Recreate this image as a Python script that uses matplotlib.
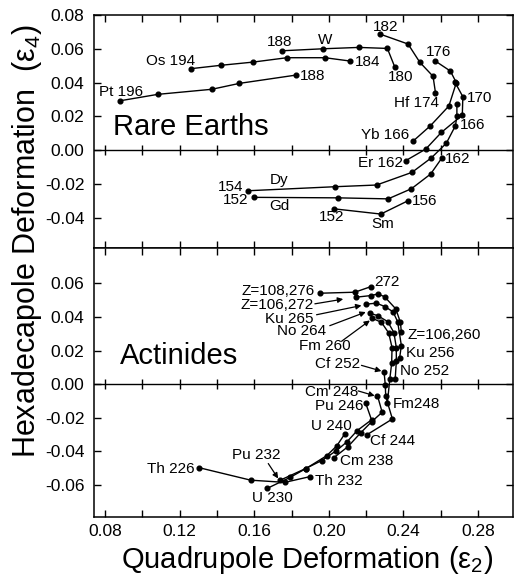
import numpy as np
import matplotlib.pyplot as plt
from matplotlib.ticker import MultipleLocator, FormatStrFormatter

plt.rcParams['font.family'] = ['Liberation Sans', 'DejaVu Sans']
plt.rcParams['mathtext.fontset'] = 'custom'
plt.rcParams['mathtext.rm'] = 'Liberation Sans'
plt.rcParams['mathtext.it'] = 'Liberation Sans:italic'
plt.rcParams['axes.unicode_minus'] = False

# --- Rare earth isotope chains: quadrupole (e2) and hexadecapole (e4) ---
pt_e2 = [0.0880, 0.1082, 0.1372, 0.1520, 0.1823]
pt_e4 = [0.0292, 0.0330, 0.0360, 0.0395, 0.0444]
os_e2 = [0.1259, 0.1420, 0.1593, 0.1775, 0.1979, 0.2116]
os_e4 = [0.0482, 0.0502, 0.0521, 0.0547, 0.0547, 0.0527]
w_e2 = [0.1748, 0.1970, 0.2161, 0.2314, 0.2353]
w_e4 = [0.0588, 0.0600, 0.0608, 0.0602, 0.0494]
hf_e2 = [0.2277, 0.2425, 0.2488, 0.2559, 0.2572]
hf_e4 = [0.0686, 0.0628, 0.0520, 0.0437, 0.0340]
yb_e2 = [0.2569, 0.2652, 0.2684, 0.2644, 0.2545, 0.2452]
yb_e4 = [0.0529, 0.0468, 0.0399, 0.0261, 0.0144, 0.0053]
er_e2 = [0.2412, 0.2520, 0.2604, 0.2716, 0.2719, 0.2675]
er_e4 = [-0.0063, 0.0006, 0.0105, 0.0207, 0.0316, 0.0405]
dy_e2 = [0.1564, 0.2034, 0.2256, 0.2446, 0.2550, 0.2630, 0.2679, 0.2687, 0.2687]
dy_e4 = [-0.0241, -0.0217, -0.0207, -0.0132, -0.0046, 0.0040, 0.0144, 0.0199, 0.0273]
gd_e2 = [0.1598, 0.2050, 0.2318, 0.2443, 0.2546, 0.2607]
gd_e4 = [-0.0280, -0.0283, -0.0289, -0.0229, -0.0142, -0.0046]
sm_e2 = [0.2028, 0.2279, 0.2425]
sm_e4 = [-0.0348, -0.0379, -0.0300]

# --- Actinide isotope chains ---
z108_e2 = [0.1952, 0.2139, 0.2225]
z108_e4 = [0.0541, 0.0547, 0.0580]
z106_e2 = [0.2143, 0.2225, 0.2265, 0.2300, 0.2359, 0.2384, 0.2389]
z106_e4 = [0.0517, 0.0527, 0.0537, 0.0519, 0.0448, 0.0368, 0.0309]
ku_e2 = [0.2202, 0.2255, 0.2300, 0.2344, 0.2369, 0.2389, 0.2380]
ku_e4 = [0.0476, 0.0482, 0.0462, 0.0431, 0.0372, 0.0230, 0.0158]
no_e2 = [0.2220, 0.2263, 0.2316, 0.2349, 0.2362, 0.2362, 0.2356]
no_e4 = [0.0423, 0.0407, 0.0372, 0.0307, 0.0218, 0.0136, 0.0030]
fm_e2 = [0.2229, 0.2282, 0.2321, 0.2339, 0.2337, 0.2327, 0.2314]
fm_e4 = [0.0394, 0.0368, 0.0305, 0.0218, 0.0124, 0.0030, -0.0112]
cf_e2 = [0.2296, 0.2303, 0.2305, 0.2341, 0.2204]
cf_e4 = [0.0075, -0.0006, -0.0073, -0.0207, -0.0301]
cm_e2 = [0.2261, 0.2286, 0.2229, 0.2171, 0.2102, 0.2027]
cm_e4 = [-0.0069, -0.0167, -0.0224, -0.0289, -0.0372, -0.0437]
pu_e2 = [0.2198, 0.2229, 0.2152, 0.2098, 0.2041, 0.1962, 0.1875, 0.1737]
pu_e4 = [-0.0114, -0.0212, -0.0276, -0.0342, -0.0395, -0.0454, -0.0502, -0.0572]
u_e2 = [0.2086, 0.2043, 0.1989, 0.1877, 0.1791, 0.1669]
u_e4 = [-0.0295, -0.0366, -0.0425, -0.0502, -0.0555, -0.0620]
th_e2 = [0.1305, 0.1581, 0.1764, 0.1898]
th_e4 = [-0.0497, -0.0571, -0.0584, -0.0550]

rare_chains = [(pt_e2, pt_e4), (os_e2, os_e4), (w_e2, w_e4), (hf_e2, hf_e4),
               (yb_e2, yb_e4), (er_e2, er_e4), (dy_e2, dy_e4), (gd_e2, gd_e4),
               (sm_e2, sm_e4)]
act_chains = [(z108_e2, z108_e4), (z106_e2, z106_e4), (ku_e2, ku_e4),
              (no_e2, no_e4), (fm_e2, fm_e4), (cf_e2, cf_e4), (cm_e2, cm_e4),
              (pu_e2, pu_e4), (u_e2, u_e4), (th_e2, th_e4)]

# label text, x, y, horizontal alignment
rare_labels = [
    ('Pt 196', 0.0765, 0.0345, 'left'), ('188', 0.1845, 0.0439, 'left'),
    ('Os 194', 0.1282, 0.0529, 'right'), ('184', 0.2139, 0.0523, 'left'),
    ('188', 0.1735, 0.0638, 'center'), ('W', 0.1979, 0.0652, 'center'),
    ('180', 0.2316, 0.0434, 'left'), ('182', 0.2236, 0.0731, 'left'),
    ('Hf 174', 0.2469, 0.0280, 'center'), ('176', 0.2587, 0.0583, 'center'),
    ('170', 0.2739, 0.0306, 'left'), ('166', 0.2702, 0.0148, 'left'),
    ('Yb 166', 0.2434, 0.0089, 'right'), ('Er 162', 0.2396, -0.0075, 'right'),
    ('162', 0.2621, -0.0055, 'left'), ('154', 0.1539, -0.0217, 'right'),
    ('Dy', 0.1732, -0.0178, 'center'), ('152', 0.1566, -0.0296, 'right'),
    ('Gd', 0.1732, -0.0332, 'center'), ('152', 0.2013, -0.0397, 'center'),
    ('Sm', 0.2287, -0.0439, 'center'), ('156', 0.2445, -0.0300, 'left'),
]
act_labels = [
    ('Z=108,276', 0.1925, 0.0553, 'right'), ('272', 0.2246, 0.0610, 'left'),
    ('Z=106,272', 0.1920, 0.0471, 'right'), ('Ku 265', 0.1920, 0.0390, 'right'),
    ('No 264', 0.1985, 0.0314, 'right'), ('Fm 260', 0.1979, 0.0226, 'center'),
    ('Z=106,260', 0.2423, 0.0295, 'left'), ('Ku 256', 0.2416, 0.0187, 'left'),
    ('Cf 252', 0.2166, 0.0118, 'right'), ('No 252', 0.2380, 0.0079, 'left'),
    ('Cm 248', 0.2159, -0.0049, 'right'), ('Fm248', 0.2343, -0.0118, 'left'),
    ('Pu 246', 0.2185, -0.0128, 'right'), ('U 240', 0.2125, -0.0246, 'right'),
    ('Cf 244', 0.2220, -0.0335, 'left'), ('Cm 238', 0.2059, -0.0454, 'left'),
    ('Pu 232', 0.1612, -0.0419, 'center'), ('Th 226', 0.1282, -0.0502, 'right'),
    ('Th 232', 0.1925, -0.0576, 'left'), ('U 230', 0.1697, -0.0679, 'center'),
]
# arrows: (tail, head)
act_arrows = [
    ((0.1925, 0.0478), (0.2077, 0.0506)),
    ((0.1934, 0.0413), (0.2175, 0.0468)),
    ((0.2005, 0.0348), (0.2198, 0.0429)),
    ((0.2068, 0.0255), (0.2220, 0.0379)),
    ((0.2175, 0.0112), (0.2282, 0.0078)),
    ((0.2157, -0.0040), (0.2246, -0.0069)),
    ((0.1675, -0.0472), (0.1728, -0.0561)),
]

W, H = 516, 575
fig = plt.figure(figsize=(W / 100, H / 100), dpi=100)
left, right = 94 / W, 513 / W
y_top, y_mid, y_bot = 1 - 15 / H, 1 - 248 / H, 1 - 517 / H
ax_re = fig.add_axes([left, y_mid, right - left, y_top - y_mid])
ax_ac = fig.add_axes([left, y_bot, right - left, y_mid - y_bot])

ax_re.set_ylim(-0.058, 0.08)
ax_ac.set_ylim(-0.079, 0.081)
ax_re.set_yticks(np.arange(-0.04, 0.081, 0.02))
ax_ac.set_yticks(np.arange(-0.06, 0.061, 0.02))

for ax in (ax_re, ax_ac):
    ax.set_xlim(0.074, 0.2988)
    ax.xaxis.set_major_locator(MultipleLocator(0.04))
    ax.xaxis.set_minor_locator(MultipleLocator(0.02))
    ax.xaxis.set_major_formatter(FormatStrFormatter('%.2f'))
    ax.yaxis.set_major_formatter(FormatStrFormatter('%.2f'))
    ax.tick_params(which='both', direction='in', top=True, right=True,
                   length=5, width=1, labelsize=12.5)
    ax.tick_params(axis='y', pad=7)
    ax.tick_params(axis='x', pad=5)
    for sp in ax.spines.values():
        sp.set_linewidth(1.1)
    # zero line carrying its own tick marks
    ax.axhline(0, color='k', lw=1.0)
    xt = np.arange(0.08, 0.281, 0.02)
    ax.plot(xt, np.zeros_like(xt), ls='none', marker='|', ms=7, mew=1,
            color='k')
ax_re.tick_params(axis='x', labelbottom=False)

for chains, ax in ((rare_chains, ax_re), (act_chains, ax_ac)):
    for e2, e4 in chains:
        ax.plot(e2, e4, '-o', color='k', lw=1.0, ms=3.4)

for labels, ax in ((rare_labels, ax_re), (act_labels, ax_ac)):
    for s, x, y, ha in labels:
        ax.text(x, y, s, ha=ha, va='center', fontsize=11)

for tail, head in act_arrows:
    ax_ac.annotate('', xy=head, xytext=tail,
                   arrowprops=dict(arrowstyle='-|>', color='k', lw=0.9,
                                   mutation_scale=8, shrinkA=0, shrinkB=0))

ax_re.text(0.0843, 0.0136, 'Rare Earths', fontsize=21, va='center')
ax_ac.text(0.0880, 0.0167, 'Actinides', fontsize=21, va='center')

fig.text(27 / W, 1 - 241 / H, 'Hexadecapole Deformation  (ε$_4$)',
         rotation=90, ha='center', va='center', fontsize=22)
fig.text(307 / W, 1 - 560 / H, 'Quadrupole Deformation (ε$_2$)',
         ha='center', va='center', fontsize=21)

fig.savefig('out.png', dpi=100)
